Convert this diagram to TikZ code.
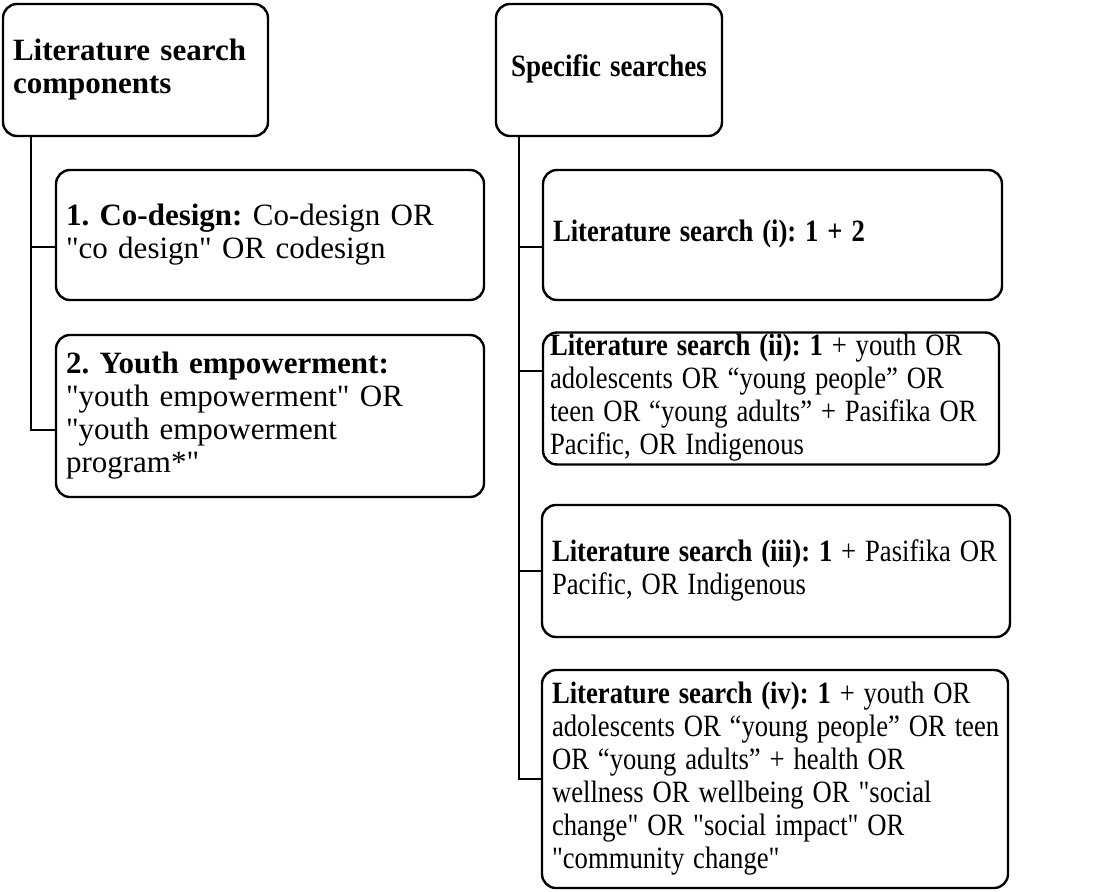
\documentclass[tikz,border=0pt]{standalone}
\usepackage{fontspec}
\usepackage{graphicx}
\setmainfont{Liberation Serif}[Ligatures=TeXOff]
% a block of fixed lines; the optional argument condenses it horizontally
\newcommand{\lines}[2][0.86]{\scalebox{#1}[1]{\begin{tabular}{@{}l@{}}#2\end{tabular}}}
\begin{document}
\frenchspacing
\begin{tikzpicture}[x=1pt,y=-1pt,
  box/.style={draw, line width=2.4pt, rounded corners=14pt, inner xsep=10pt,
    inner ysep=0pt, align=left, font=\fontsize{31}{33}\selectfont},
  link/.style={line width=2.4pt}]
\useasboundingbox (0,0) rectangle (1102,891);

% left column: search components
\node[box, minimum width=265pt, minimum height=132pt, text width=245pt] (A) at (135.5,70)
  {\lines[1]{\textbf{Literature search}\\\textbf{components}}};
\node[box, minimum width=428pt, minimum height=130pt, text width=408pt] (b1) at (270,235)
  {\lines[1]{\textbf{1. Co-design:} Co-design OR\\"co design" OR codesign}};
\node[box, minimum width=428pt, minimum height=162pt, text width=408pt] (b2) at (270,416)
  {\lines[1]{\textbf{2. Youth empowerment:}\\"youth empowerment" OR\\"youth empowerment\\program*"}};

% right column: specific searches
\node[box, minimum width=226pt, minimum height=132pt, text width=206pt, align=center] (B) at (609,70)
  {\lines[0.87]{\textbf{Specific searches}}};
\node[box, minimum width=459pt, minimum height=130pt, text width=439pt] (s1) at (772.5,235)
  {\lines{\textbf{Literature search (i): 1 + 2}}};
\node[box, minimum width=456pt, minimum height=129pt, text width=442pt, inner xsep=7pt] (s2) at (771,398.5)
  {\raisebox{-4pt}{\lines{\textbf{Literature search (ii): 1} + youth OR\\adolescents OR “young people” OR\\teen OR “young adults” + Pasifika OR\\Pacific, OR Indigenous}}};
\node[box, minimum width=468pt, minimum height=132pt, text width=448pt] (s3) at (776,571)
  {\lines{\textbf{Literature search (iii): 1} + Pasifika OR\\Pacific, OR Indigenous}};
\node[box, minimum width=466pt, minimum height=218pt, text width=446pt] (s4) at (775,779)
  {\lines{\textbf{Literature search (iv): 1} + youth OR\\adolescents OR “young people” OR teen\\OR “young adults” + health OR\\wellness OR wellbeing OR "social\\change" OR "social impact" OR\\"community change"}};

% trunk positions and branch heights
\coordinate (tA) at (31,0);
\coordinate (tB) at (519,0);
\path ([yshift=-12pt]b1.west) coordinate (c1);
\path ([yshift=-14pt]b2.west) coordinate (c2);
\path ([yshift=-12pt]s1.west) coordinate (d1);
\path ([yshift=27.5pt]s2.west) coordinate (d2);
\path (s3.west) coordinate (d3);
\path (s4.west) coordinate (d4);

% connectors
\draw[link] (A.south -| tA) |- (c2);
\draw[link] (c1 -| tA) -- (c1);
\draw[link] (B.south -| tB) |- (d4);
\draw[link] (d1 -| tB) -- (d1);
\draw[link] (d2 -| tB) -- (d2);
\draw[link] (d3 -| tB) -- (d3);
\end{tikzpicture}
\end{document}
